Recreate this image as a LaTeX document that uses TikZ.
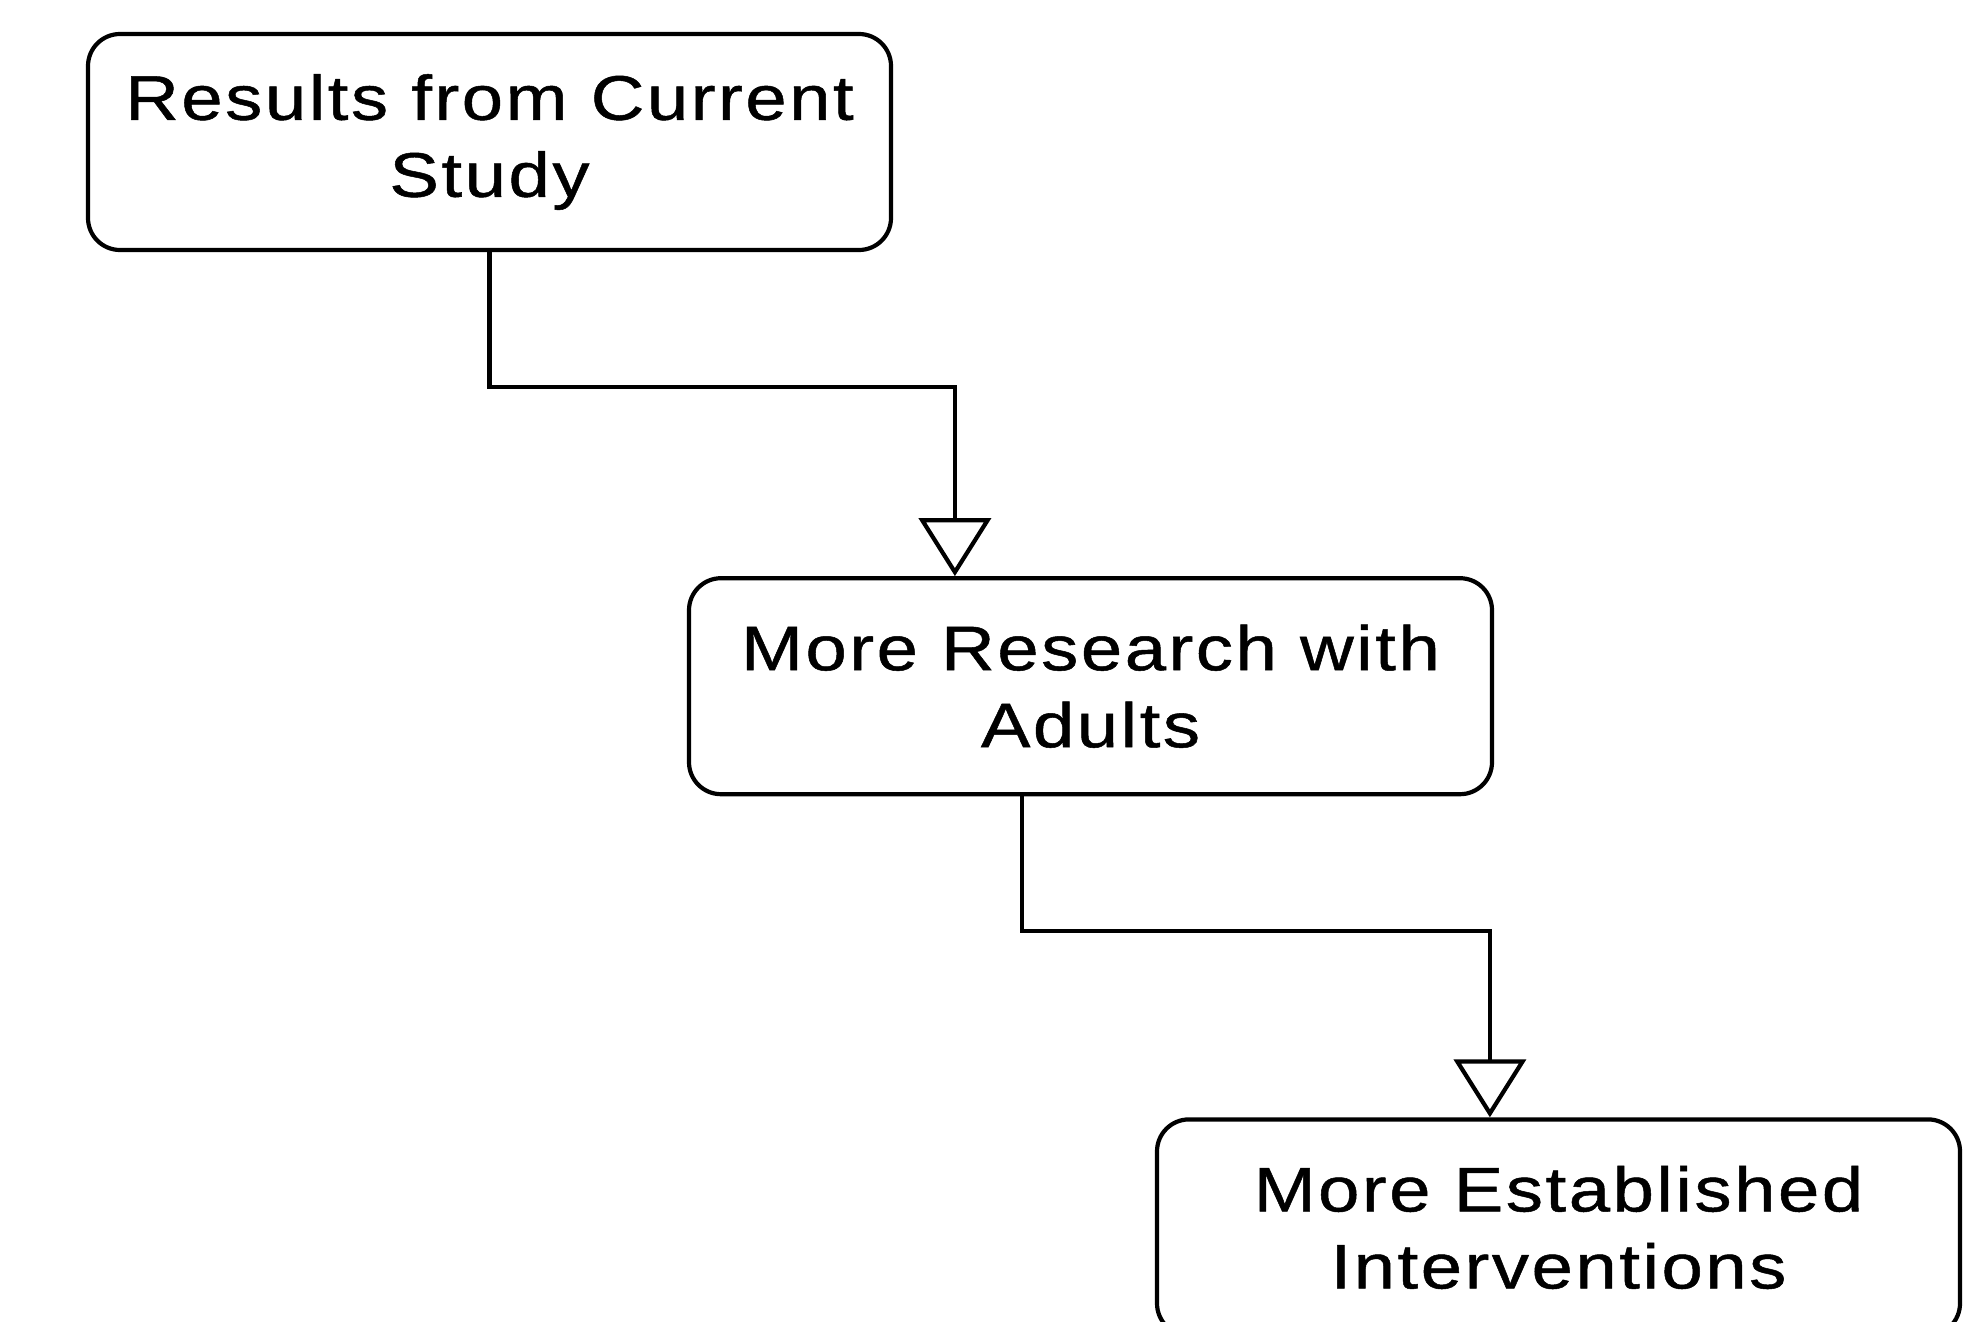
\documentclass[tikz,border=0pt]{standalone}
\usepackage{fontspec}
\setmainfont{Liberation Sans}[FakeStretch=1.18, LetterSpace=4, FakeBold=0.8]
\usetikzlibrary{arrows.meta, positioning, calc}

\begin{document}
\begin{tikzpicture}[x=0.5pt, y=-0.5pt,
  box/.style={draw, rounded corners=16pt, minimum width=401.5pt,
    minimum height=108pt, align=center, line width=2.1pt,
    font=\fontsize{31.5pt}{38.5pt}\selectfont, inner sep=0pt},
  arr/.style={-{Triangle[open, length=29pt, width=36pt, line width=2.1pt]},
    line width=2.1pt}]
\useasboundingbox (0,0) rectangle (1982,1322);
\node[box] (res) at (489.5,142) {Results from Current\\Study};
\node[box, below=162pt of res, xshift=300.5pt] (adl) {More Research with\\Adults};
\node[box, below=160.5pt of adl, xshift=234pt] (est) {More Established\\Interventions};
% entry points on the top edges
\coordinate (in2) at ($(adl.north west)+(268,0)$);
\coordinate (out2) at ($(adl.south west)+(335,0)$);
\coordinate (in3) at ($(est.north west)+(335,0)$);
\draw[arr] (res.south) -- ++(0,135) -| (in2);
\draw[arr] (out2) -- ++(0,135) -| (in3);
\end{tikzpicture}
\end{document}
